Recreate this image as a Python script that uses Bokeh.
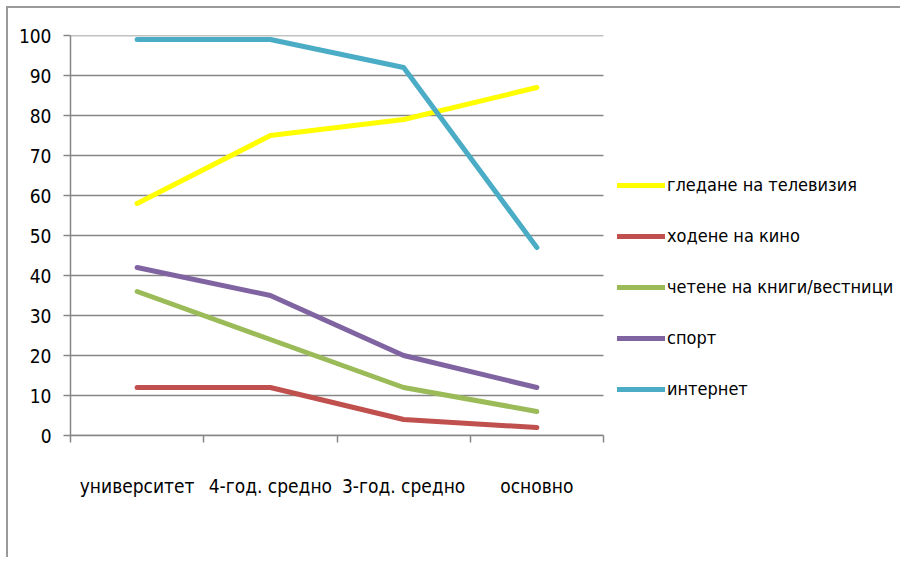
from bokeh.plotting import figure
from bokeh.models import Range1d, FixedTicker, LinearAxis, Legend, LegendItem
from bokeh.embed import file_html
from bokeh.resources import INLINE

categories = ["университет", "4-год. средно", "3-год. средно", "основно"]
series_names = ["гледане на телевизия", "ходене на кино", "четене на книги/вестници", "спорт", "интернет"]
tv = [58, 75, 79, 87]
cinema = [12, 12, 4, 2]
books = [36, 24, 12, 6]
sport = [42, 35, 20, 12]
internet = [99, 99, 92, 47]
colors = ["#FFFF00", "#C0504D", "#9BBB59", "#8064A2", "#4BACC6"]
y_ticks = list(range(0, 101, 10))

FONT = "DejaVu Sans Condensed"
GRAY = "#868686"

n = len(categories)
x = [i + 1 for i in range(n)]
# frame: 832 px wide, 133.25 px per category
x_end = 0.5 + 832 / 133.25

p = figure(width=894, height=551, output_backend="svg", toolbar_location=None,
           x_range=Range1d(0.5, x_end), y_range=Range1d(0, 100),
           x_axis_location=None, min_border_left=62, min_border_right=0,
           min_border_top=27, min_border_bottom=124)
p.outline_line_color = None
p.xgrid.visible = False
p.ygrid.visible = False
p.styles = {"margin": "6px 0 0 6px", "border-left": "2px solid #9a9a9a",
            "border-top": "2px solid #9a9a9a"}

# horizontal grid lines limited to the category area
p.segment(x0=[0.5] * len(y_ticks), x1=[n + 0.5] * len(y_ticks), y0=y_ticks, y1=y_ticks,
          line_color=GRAY, line_width=1.5)

# y axis
ya = p.yaxis[0]
ya.ticker = FixedTicker(ticks=y_ticks)
ya.axis_line_color = GRAY
ya.axis_line_width = 1.5
ya.major_tick_line_color = GRAY
ya.major_tick_line_width = 1.5
ya.major_tick_out = 7
ya.major_tick_in = 0
ya.minor_tick_line_color = None
ya.major_label_text_font = FONT
ya.major_label_text_font_size = "19px"
ya.major_label_text_color = "#000000"
ya.major_label_standoff = 12

# x axis with boundary ticks
xa1 = LinearAxis(ticker=FixedTicker(ticks=[i + 0.5 for i in range(n + 1)]),
                 major_label_overrides={i + 0.5: "" for i in range(n + 1)},
                 bounds=(0.5, n + 0.5))
xa1.axis_line_color = GRAY
xa1.axis_line_width = 1.5
xa1.major_tick_line_color = GRAY
xa1.major_tick_line_width = 1.5
xa1.major_tick_out = 7
xa1.major_tick_in = 0
xa1.minor_tick_line_color = None
xa1.major_label_text_font_size = "1px"
xa1.major_label_standoff = 0
p.add_layout(xa1, "below")

xa2 = LinearAxis(ticker=FixedTicker(ticks=x),
                 major_label_overrides={xi: c for xi, c in zip(x, categories)})
xa2.axis_line_color = None
xa2.major_tick_line_color = None
xa2.minor_tick_line_color = None
xa2.major_label_text_font = FONT
xa2.major_label_text_font_size = "19px"
xa2.major_label_text_color = "#000000"
xa2.major_label_standoff = 26
p.add_layout(xa2, "below")

items = []
for name, vals, col in zip(series_names, [tv, cinema, books, sport, internet], colors):
    r = p.line(x, vals, line_color=col, line_width=5, line_cap="round", line_join="round")
    items.append(LegendItem(label=name, renderers=[r]))

legend = Legend(items=items, location=(547, 36), padding=0, margin=0,
                border_line_color=None, background_fill_alpha=0,
                glyph_width=48, glyph_height=20, label_height=20, spacing=30,
                label_text_font=FONT, label_text_font_size="18px",
                label_text_color="#000000", label_standoff=2)
p.add_layout(legend, "center")

open("out.html", "w").write(file_html(p, INLINE))
